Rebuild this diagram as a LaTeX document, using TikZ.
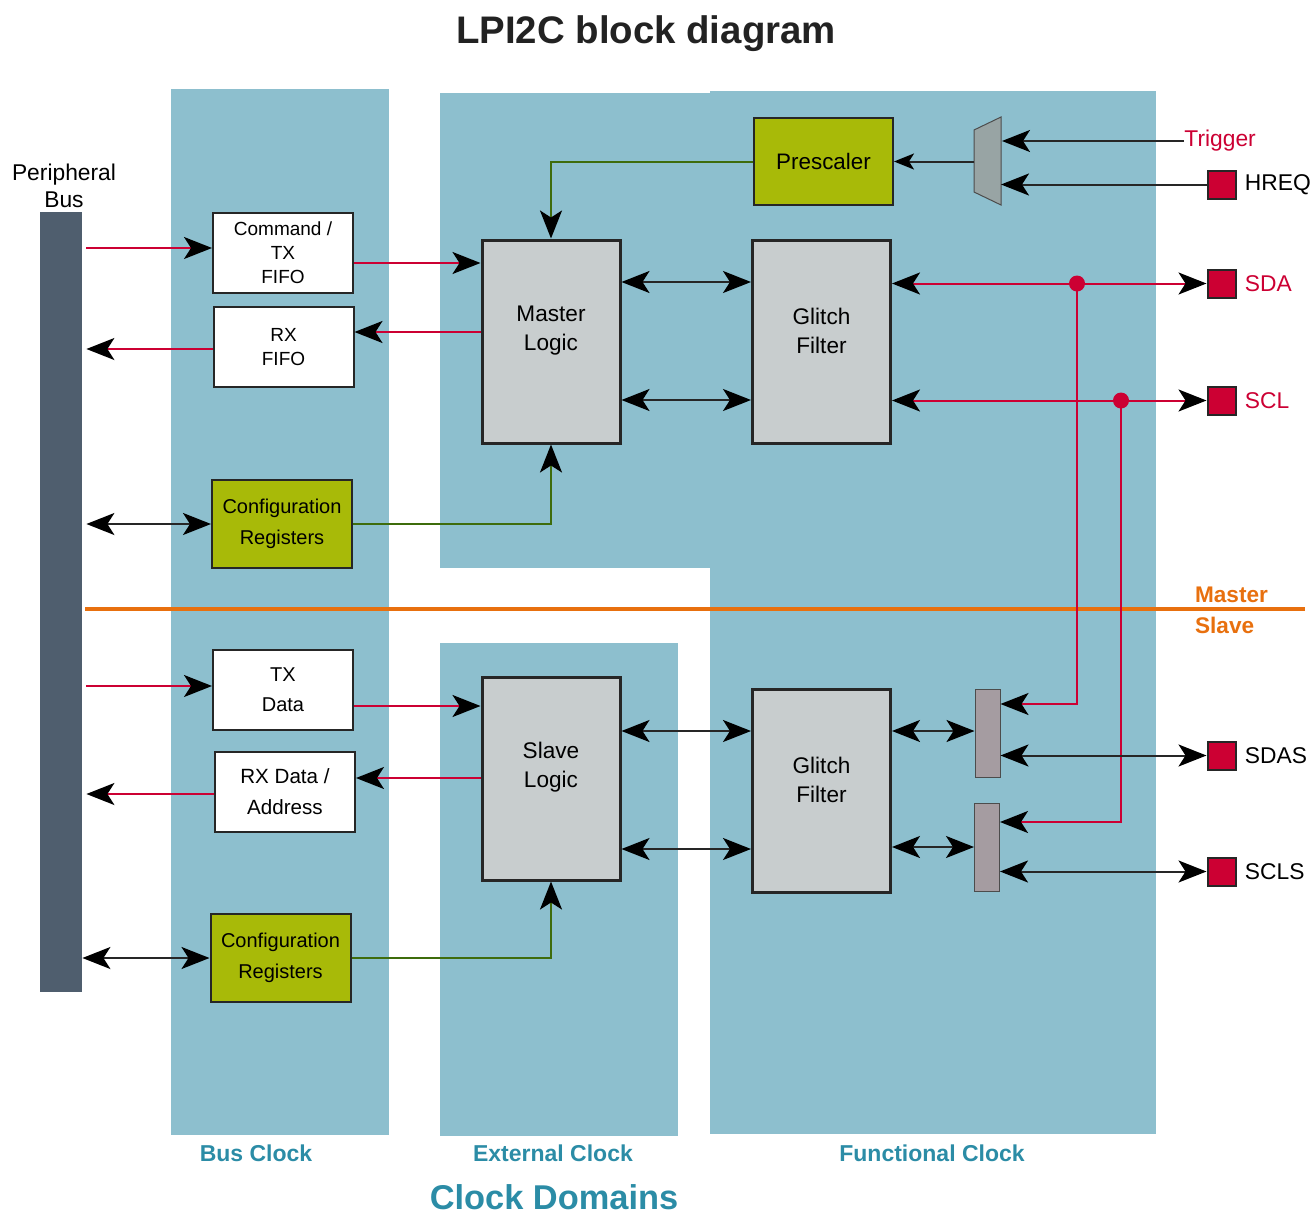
\documentclass[tikz,border=0pt]{standalone}
\usepackage{fontspec}
\setmainfont{Liberation Sans}
\usetikzlibrary{arrows.meta,positioning}

\definecolor{domainblue}{RGB}{141,191,206}
\definecolor{busslate}{RGB}{79,94,110}
\definecolor{sigred}{RGB}{204,0,51}
\definecolor{ctlgreen}{RGB}{62,108,12}
\definecolor{cfggreen}{RGB}{168,186,8}
\definecolor{logicgray}{RGB}{200,205,206}
\definecolor{selgray}{RGB}{165,156,161}
\definecolor{muxgray}{RGB}{152,164,164}
\definecolor{msorange}{RGB}{232,112,14}
\definecolor{domaintext}{RGB}{43,140,166}
\definecolor{titlegray}{RGB}{34,34,34}

\newcommand{\fsz}[2]{\fontsize{#1}{#2}\selectfont}

\tikzset{
  fifobox/.style={draw=black!85,line width=1pt,fill=white,align=center,
    minimum width=70pt,minimum height=40pt,inner sep=0pt,font=\fsz{9.5}{12}},
  regbox/.style={fifobox,fill=cfggreen,minimum height=44pt,font=\fsz{10}{15.5}},
  logicbox/.style={draw=black!85,line width=1.5pt,fill=logicgray,
    minimum width=69pt,minimum height=101.5pt,inner sep=0pt},
  boxtext/.style={align=center,font=\fsz{11.3}{14.5},yshift=5.5pt},
  selbox/.style={draw=black!70,line width=0.5pt,fill=selgray,
    minimum width=12.5pt,minimum height=44pt,inner sep=0pt},
  pad/.style={draw=black!85,line width=1pt,fill=sigred,minimum size=14pt,inner sep=0pt},
  padlbl/.style={font=\fsz{11.4}{13},inner sep=0pt},
  sig/.style={sigred,line width=1pt},
  ctl/.style={ctlgreen,line width=1pt},
  wire/.style={black!85,line width=1pt},
  dot/.style={circle,fill=sigred,minimum size=8pt,inner sep=0pt},
  domainlbl/.style={text=domaintext,font=\bfseries\fsz{11.5}{13}},
}

\begin{document}
\begin{tikzpicture}[x=0.5pt,y=-0.5pt,>={Stealth[length=14pt,width=11pt,inset=3.5pt,color=black]}]
  \useasboundingbox (0,0) rectangle (1312,1216);

  % clock domains
  \fill[domainblue] (171,89) rectangle (389,1135);
  \fill[domainblue] (440,93) rectangle (710,568);
  \fill[domainblue] (440,643) rectangle (678,1136);
  \fill[domainblue] (710,91) rectangle (1156,1134);
  \draw[msorange,line width=2pt] (85,609) -- (1305,609);

  \node[font=\bfseries\fsz{19.2}{22},text=titlegray] (title) at (646,34) {LPI2C block diagram};
  \node[align=center,font=\fsz{11.4}{13.5}] (buslbl) at (64,186) {Peripheral\\Bus};
  \node[fill=busslate,minimum width=21pt,minimum height=390pt,inner sep=0pt] (bus) at (61,602) {};

  \node[fifobox] (cmdfifo) at (283,253) {Command /\\TX\\FIFO};
  \node[fifobox] (rxfifo) at (283.5,347) {RX\\FIFO};
  \node[regbox] (cfgm) at (282,524) {Configuration\\Registers};
  \node[fifobox,font=\fsz{10}{15}] (txdata) at (283,689.5) {TX\\Data};
  \node[fifobox,font=\fsz{10.3}{15.5}] (rxdata) at (285,792) {RX Data /\\Address};
  \node[regbox] (cfgs) at (280.5,958) {Configuration\\Registers};

  \node[logicbox,label={[boxtext]center:Master\\Logic}] (master) at (551,341.5) {};
  \node[logicbox,label={[boxtext]center:Glitch\\Filter}] (glitchm) at (821.5,341.5) {};
  \node[logicbox,label={[boxtext]center:Slave\\Logic}] (slave) at (551,778.5) {};
  \node[logicbox,label={[boxtext]center:Glitch\\Filter}] (glitchs) at (821.5,790.5) {};
  \node[fifobox,fill=cfggreen,minimum width=69.5pt,minimum height=43.5pt,font=\fsz{11.2}{13}] (presc) at (823.5,161.5) {Prescaler};

  \fill[muxgray,draw=black!70,line width=0.5pt] (974,130) -- (1001,117) -- (1001,205) -- (974,192) -- cycle;
  \coordinate (muxout) at (974,161.5);
  \coordinate (muxin1) at (1002,140);
  \coordinate (muxin2) at (1001,184.5);
  \node[selbox] (sela) at (987.5,733) {};
  \node[selbox] (selb) at (987,847) {};

  \node[pad] (hreq) at (1221.5,184.5) {};
  \node[pad] (sdapad) at (1221.5,283.5) {};
  \node[pad] (sclpad) at (1221.5,400.5) {};
  \node[pad] (sdaspad) at (1221.5,755.5) {};
  \node[pad] (sclspad) at (1221.5,871.5) {};
  \node[padlbl,right=4pt of hreq] (hreqlbl) {HREQ};
  \node[padlbl,text=sigred,right=4pt of sdapad] (sdalbl) {SDA};
  \node[padlbl,text=sigred,right=4pt of sclpad] (scllbl) {SCL};
  \node[padlbl,right=4pt of sdaspad] (sdaslbl) {SDAS};
  \node[padlbl,right=4pt of sclspad] (sclslbl) {SCLS};
  \node[padlbl,text=sigred,anchor=west] (trig) at (1184,141) {Trigger};

  \node[anchor=west,text=msorange,font=\bfseries\fsz{11.3}{13}] (mlbl) at (1188,595) {Master};
  \node[anchor=west,text=msorange,font=\bfseries\fsz{11.3}{13}] (slbl) at (1188,625) {Slave};

  \node[domainlbl] (busclk) at (256,1153) {Bus Clock};
  \node[domainlbl] (extclk) at (553,1153) {External Clock};
  \node[domainlbl] (funclk) at (932,1153) {Functional Clock};
  \node[text=domaintext,font=\bfseries\fsz{17.2}{20},inner sep=0pt] (domains) at (554,1197) {Clock Domains};

  % master side
  \draw[sig,->,shorten <=2pt] (bus.east |- 0,248) -- (cmdfifo.west |- 0,248);
  \draw[sig,->] (cmdfifo.east |- 0,263) -- (master.west |- 0,263);
  \draw[sig,->] (master.west |- 0,332) -- (rxfifo.east |- 0,332);
  \draw[sig,->,shorten >=2pt] (rxfifo.west |- 0,349) -- (bus.east |- 0,349);
  \draw[wire,<->,shorten <=2pt] (bus.east |- cfgm.west) -- (cfgm.west);
  \draw[ctl,->] (cfgm.east) -| (master.south);
  \draw[ctl,->] (presc.west) -| (master.north);
  \draw[wire,->,>={Stealth[length=10pt,width=8pt,inset=2.5pt,color=black]}] (muxout) -- (presc.east);
  \draw[wire,->] (trig.west) -- (trig.west -| muxin1);
  \draw[wire,->] (hreq.west) -- (muxin2);
  \draw[wire,<->] (master.east |- 0,282) -- (glitchm.west |- 0,282);
  \draw[wire,<->] (master.east |- 0,400) -- (glitchm.west |- 0,400);
  \draw[sig,<->] (glitchm.east |- sdapad.west) -- (sdapad.west);
  \draw[sig,<->] (glitchm.east |- sclpad.west) -- (sclpad.west);
  \coordinate (sdajoin) at (1077,283.5);
  \coordinate (scljoin) at (1121,400.5);
  \draw[sig,->] (sdajoin) |- (sela.east |- 0,704);
  \draw[sig,->] (scljoin) |- (selb.east |- 0,822);
  \node[dot] (sdadot) at (sdajoin) {};
  \node[dot] (scldot) at (scljoin) {};

  % slave side
  \draw[sig,->,shorten <=2pt] (bus.east |- 0,686) -- (txdata.west |- 0,686);
  \draw[sig,->] (txdata.east |- 0,706) -- (slave.west |- 0,706);
  \draw[sig,->] (slave.west |- 0,778) -- (rxdata.east |- 0,778);
  \draw[sig,->,shorten >=2pt] (rxdata.west |- 0,794) -- (bus.east |- 0,794);
  \draw[wire,<->] (bus.east |- cfgs.west) -- (cfgs.west);
  \draw[ctl,->] (cfgs.east) -| (slave.south);
  \draw[wire,<->] (slave.east |- 0,731) -- (glitchs.west |- 0,731);
  \draw[wire,<->] (slave.east |- 0,849) -- (glitchs.west |- 0,849);
  \draw[wire,<->] (glitchs.east |- 0,731) -- (sela.west |- 0,731);
  \draw[wire,<->] (glitchs.east |- 0,847) -- (selb.west |- 0,847);
  \draw[wire,<->] (sela.east |- sdaspad.west) -- (sdaspad.west);
  \draw[wire,<->] (selb.east |- sclspad.west) -- (sclspad.west);
\end{tikzpicture}
\end{document}
